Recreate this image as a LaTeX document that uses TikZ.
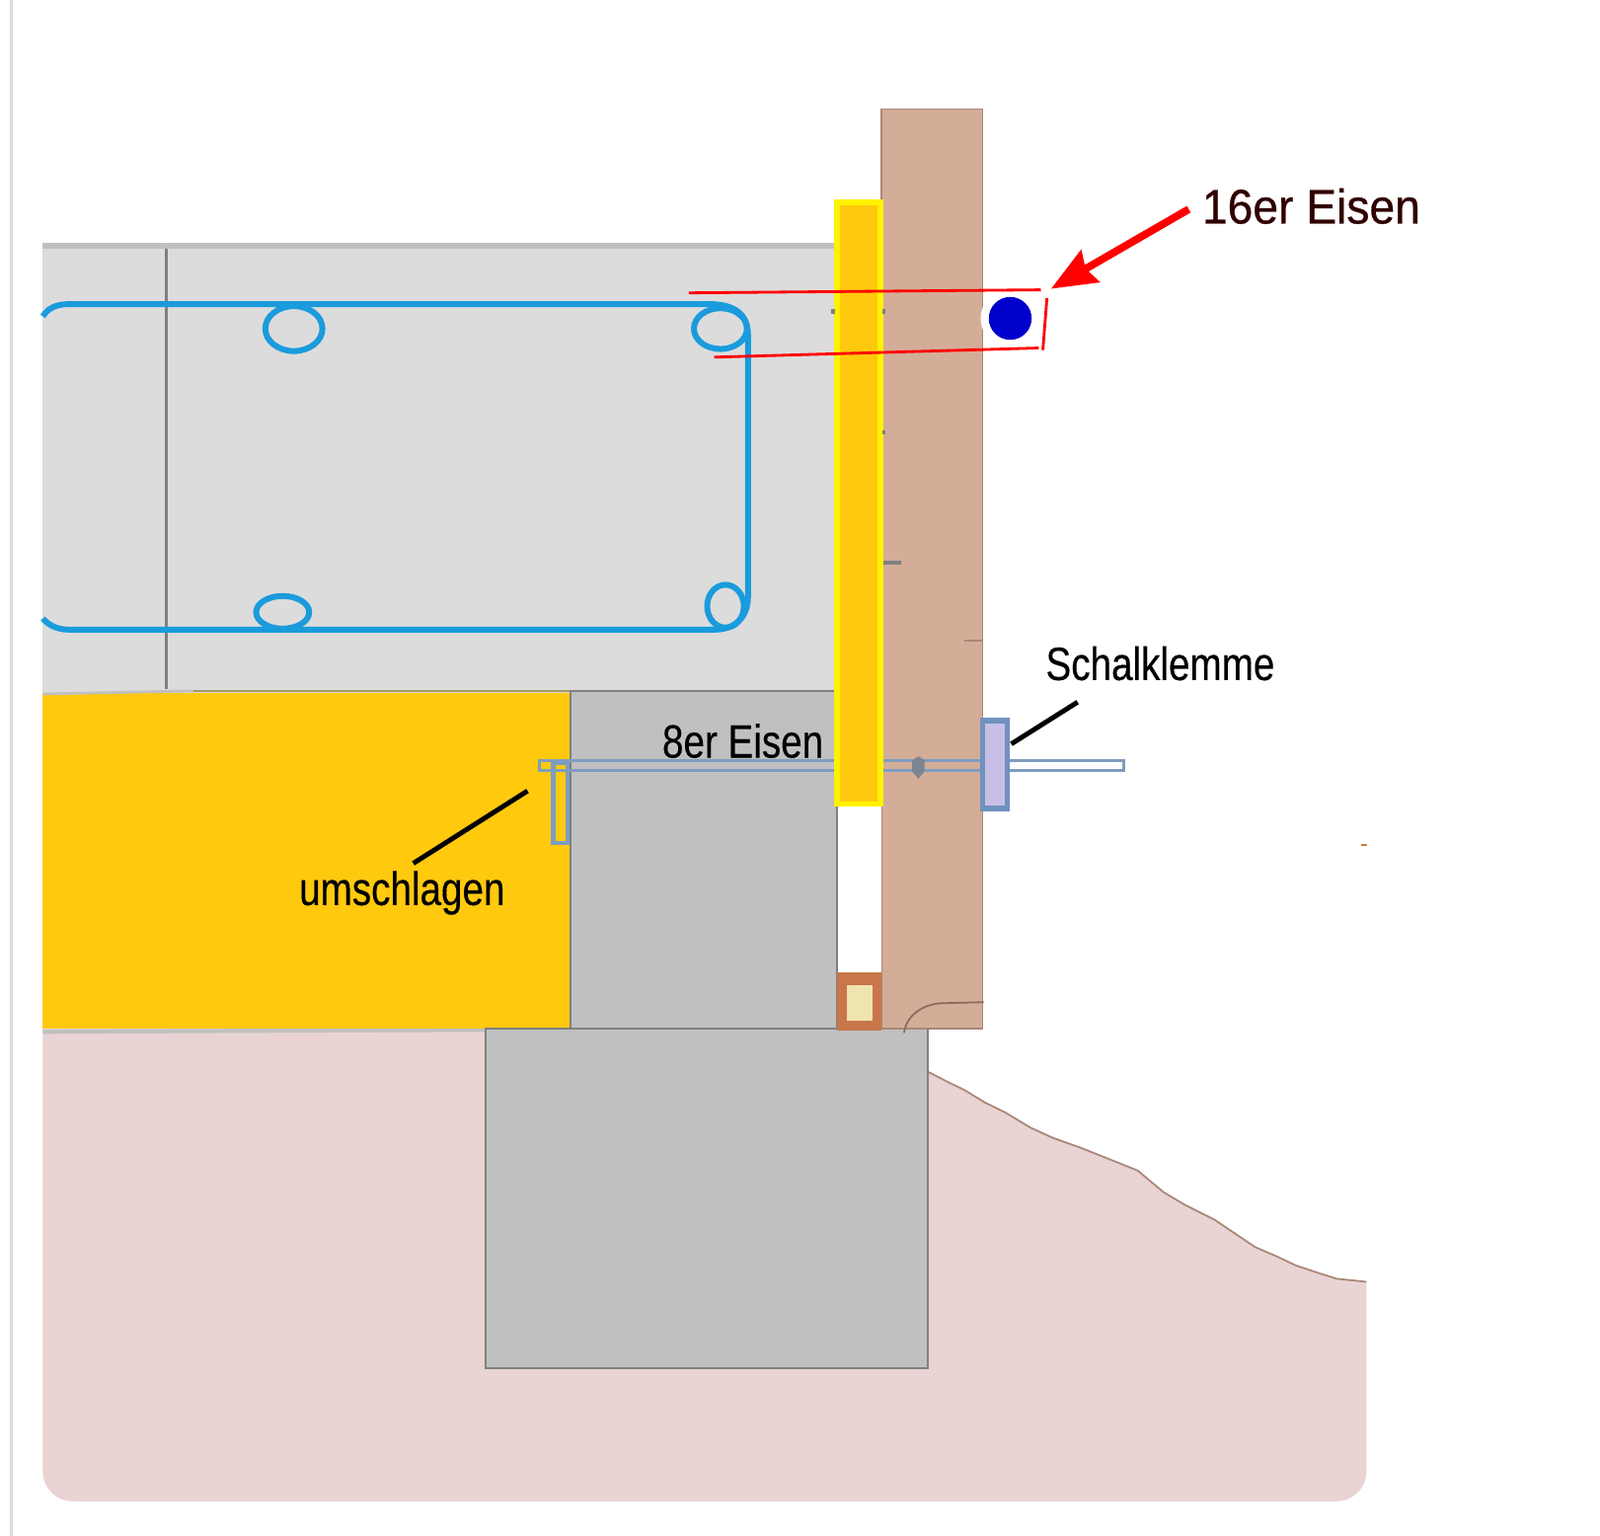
\documentclass[tikz,border=0pt]{standalone}
\usepackage{fontspec}
\setmainfont[FakeStretch=0.815,FakeBold=0.25]{Liberation Sans}
\newfontfamily\widefont[FakeStretch=0.94,FakeBold=0.6]{Liberation Sans}
\usetikzlibrary{arrows.meta,decorations.pathmorphing}
\definecolor{slabG}{HTML}{DCDCDC}
\definecolor{edgeG}{HTML}{C0C0C0}
\definecolor{lineG}{HTML}{808080}
\definecolor{concG}{HTML}{C0C0C0}
\definecolor{insY}{HTML}{FFC90E}
\definecolor{woodB}{HTML}{D4AD98}
\definecolor{woodE}{HTML}{A98775}
\definecolor{soilP}{HTML}{E9D3D3}
\definecolor{steelB}{HTML}{1A9BDC}
\definecolor{clampE}{HTML}{7092BE}
\definecolor{clampF}{HTML}{C8BFE7}
\definecolor{rodE}{HTML}{7F9DC0}
\definecolor{plateB}{HTML}{C8764A}
\definecolor{plateY}{HTML}{EFE3AE}
\definecolor{redT}{HTML}{300000}
\tikzset{
    stirrup/.style={draw=steelB, line width=1.7pt},
    bareC/.style={draw=lineG, line width=0.5pt},
    redL/.style={draw=red, line width=0.8pt},
    leaderL/.style={draw=black, line width=1.4pt},
    pointer/.style={draw=red, line width=2.2pt, -{Stealth[length=13pt,width=10.5pt,inset=1.5pt]}},
    labelT/.style={inner sep=0pt, font=\fontsize{13.5}{16}\selectfont},
    slopeL/.style={draw=woodE, line width=0.5pt, decorate, decoration={random steps, segment length=7pt, amplitude=0.4pt}},
}
\begin{document}
\begin{tikzpicture}[x=0.010338cm, y=-0.010338cm]
    \useasboundingbox (0,0) rectangle (1568,1505);
    \fill[white] (0,0) rectangle (1568,1505);
    \fill[slabG] (10,0) rectangle (13,1505);
    % soil
    \path[fill=soilP] (42,1008) -- (909,1008) -- (909,1050) -- (945,1068) -- (985,1090) -- (1010,1105) -- (1060,1125) -- (1115,1147) -- (1140,1168) -- (1190,1195) -- (1230,1222) -- (1270,1240) -- (1310,1253) -- (1339,1256) -- (1339,1260) [rounded corners=0.3cm] -- (1339,1471) -- (42,1471) [sharp corners] -- (42,1440) -- cycle;
    \draw[slopeL] (909,1050) -- (945,1068) -- (985,1090) -- (1010,1105) -- (1060,1125) -- (1115,1147) -- (1140,1168) -- (1190,1195) -- (1230,1222) -- (1270,1240) -- (1310,1253) -- (1339,1256);
    \draw[edgeG, line width=1.2pt] (42,1011) -- (480,1009);
    % slab
    \fill[slabG] (42,238) rectangle (820,680);
    \fill[edgeG] (42,238) rectangle (820,244);
    \draw[lineG, line width=0.8pt] (163,244) -- (163,675);
    % insulation and concrete
    \fill[insY] (42,679) rectangle (558,1008);
    \draw[edgeG, line width=0.8pt] (42,680) -- (190,677);
    \draw[lineG!70!insY, line width=0.6pt] (190,677) -- (558,677);
    \draw[bareC, fill=concG] (559,677) rectangle (820,1008);
    \draw[bareC, fill=concG] (476,1008) rectangle (909,1341);
    % stirrup
    \begin{scope}[stirrup]
    \draw (42,310) .. controls (47,302) and (55,298) .. (68,298) -- (695,298) .. controls (720,298) and (733,308) .. (733,328) -- (733,585) .. controls (733,605) and (720,617) .. (700,617) -- (68,617) .. controls (55,617) and (47,612) .. (42,606);
    \draw (288,322) ellipse (28 and 22);
    \draw (706,322) ellipse (26 and 20);
    \draw (277,600) ellipse (26 and 16);
    \draw (711,594) ellipse (18 and 21);
    \end{scope}
    % formwork
    \draw[woodE, line width=0.5pt, fill=woodB] (864,107) rectangle (963,1008);
    \fill[white] (821,790) rectangle (864,955);
    \fill[plateB] (820,953) rectangle (864,1010);
    \fill[plateY] (830,965) rectangle (855,1000);
    \draw[woodE!80!black, line width=0.5pt] (886,1012) .. controls (888,995) and (905,983) .. (925,983) -- (964,982);
    % rod
    \draw[rodE, line width=0.8pt] (529,745) rectangle (1101,755);
    \draw[yellow, line width=1.6pt, fill=insY] (820,198) rectangle (863,788);
    \draw[rodE, line width=1.3pt] (542,747) rectangle (556,826);
    \draw[clampE, line width=1.6pt, fill=clampF] (963,706) rectangle (987,792);
    \fill[lineG!70!clampE] (894,745) -- (900,741) -- (906,745) -- (906,756) -- (900,763) -- (894,756) -- cycle;
    % small marks
    \fill[lineG] (814,303) rectangle (818,308);
    \fill[lineG] (865,303) rectangle (868,308);
    \fill[lineG] (865,422) rectangle (868,426);
    \fill[lineG] (866,549) rectangle (883,553);
    \fill[woodE] (945,627) rectangle (962,629);
    \fill[brown] (1334,827) rectangle (1340,829);
    % steel bar
    \fill[white] (990,312) circle (29);
    \fill[blue!80!black] (990,312) circle (21);
    \coordinate (r1) at (675,287);
    \coordinate (r2) at (1020,284);
    \coordinate (r3) at (700,350);
    \coordinate (r4) at (1018,341);
    \coordinate (r5) at (1026,292);
    \coordinate (r6) at (1022,343);
    \draw[redL] (r1) -- (r2);
    \draw[redL] (r3) -- (r4);
    \draw[redL] (r5) -- (r6);
    % labels
    \node[labelT, text=redT, font=\widefont\fontsize{14}{16}\selectfont] (eisenA) at (1285,202) {16er Eisen};
    \node[labelT] (schalk) at (1137,650) {Schalklemme};
    \node[labelT] (eisenB) at (728,726) {8er Eisen};
    \node[labelT] (umsch) at (394,875) {umschlagen};
    \coordinate (t1) at (1165,205);
    \coordinate (t2) at (1030,283);
    \coordinate (s1) at (1056,688);
    \coordinate (s2) at (991,729);
    \coordinate (u1) at (405,846);
    \coordinate (u2) at (517,775);
    \draw[pointer] (t1) -- (t2);
    \draw[leaderL] (s1) -- (s2);
    \draw[leaderL] (u1) -- (u2);
\end{tikzpicture}
\end{document}
